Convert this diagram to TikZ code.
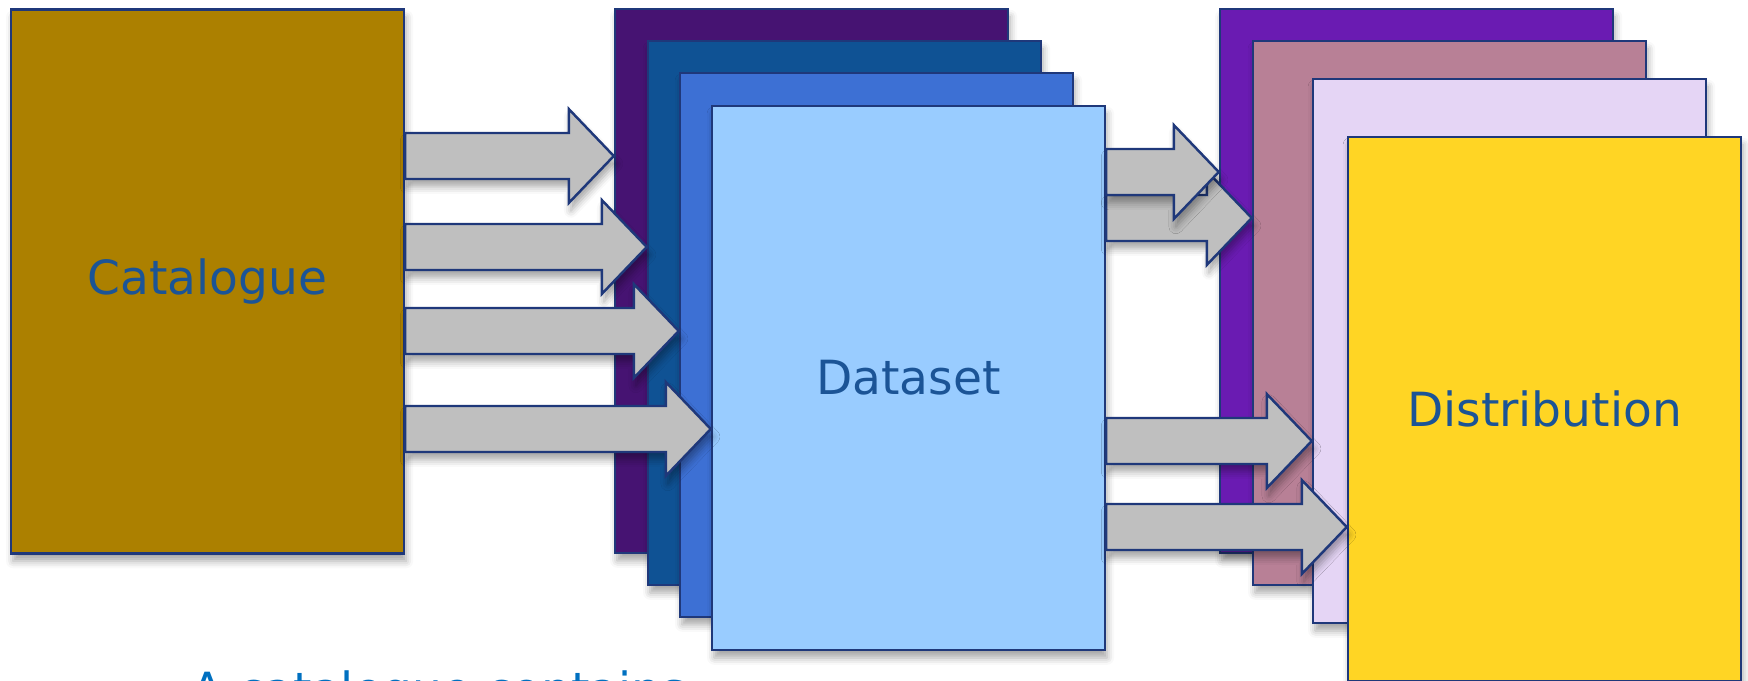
\documentclass[tikz,border=0pt]{standalone}
\usepackage{fontspec}
\setmainfont{DejaVu Sans}
\usepackage{xcolor}
\usetikzlibrary{calc}
\usetikzlibrary{shadows.blur}

\definecolor{bord}{RGB}{31,56,122}
\definecolor{labeltxt}{RGB}{27,84,150}
\definecolor{notetxt}{RGB}{0,112,192}
\definecolor{arrowgrey}{RGB}{191,191,191}
\definecolor{catfill}{RGB}{172,128,0}
\definecolor{dsone}{RGB}{70,19,114}
\definecolor{dstwo}{RGB}{15,82,148}
\definecolor{dsthree}{RGB}{61,112,212}
\definecolor{dsfour}{RGB}{153,204,255}
\definecolor{distone}{RGB}{106,27,178}
\definecolor{disttwo}{RGB}{184,128,150}
\definecolor{distthree}{RGB}{229,213,245}
\definecolor{distfour}{RGB}{255,213,36}

\begin{document}
\begin{tikzpicture}[
        box/.style={draw=bord, line width=0.7pt, minimum width=3.93cm, minimum height=5.44cm,
            inner sep=0pt, text=labeltxt, font=\fontsize{13.4}{16}\selectfont,
            blur shadow={shadow xshift=0.6pt, shadow yshift=-2.2pt, shadow blur radius=2pt, shadow opacity=35}},
        blockarrow/.style={draw=bord, line width=0.7pt, fill=arrowgrey, line join=miter,
            blur shadow={shadow xshift=0.6pt, shadow yshift=-2.2pt, shadow blur radius=2pt, shadow opacity=35},
            to path={let \p1=(\tikztostart), \p2=(\tikztotarget) in
                (\x1,\y1+0.23cm) -- (\x2-0.45cm,\y1+0.23cm) -- (\x2-0.45cm,\y1+0.47cm) -- (\x2,\y1)
                -- (\x2-0.45cm,\y1-0.47cm) -- (\x2-0.45cm,\y1-0.23cm) -- (\x1,\y1-0.23cm) -- cycle}}
    ]
    \useasboundingbox (0,0) rectangle (17.48,-6.81);

    % -- Catalogue --
    \node[box, fill=catfill] (cat) at (2.075,-2.815) {Catalogue};

    % -- Pile des datasets --
    \node[box, fill=dsone]   (ds1) at (8.115,-2.81) {};
    \node[box, fill=dstwo]   (ds2) at (8.445,-3.13) {};
    \node[box, fill=dsthree] (ds3) at (8.765,-3.45) {};
    \node[box, fill=dsfour]  (ds4) at (9.085,-3.78) {Dataset};

    % -- Pile des distributions --
    \node[box, fill=distone]   (dist1) at (14.165,-2.81) {};
    \node[box, fill=disttwo]   (dist2) at (14.495,-3.13) {};
    \node[box, fill=distthree] (dist3) at (15.095,-3.51) {};
    \node[box, fill=distfour]  (dist4) at (15.445,-4.09) {Distribution};

    % -- Fleches catalogue -> datasets --
    \draw[blockarrow] ([yshift=1.255cm]cat.east) to (ds1.west);
    \draw[blockarrow] ([yshift=0.345cm]cat.east) to (ds2.west);
    \draw[blockarrow] ([yshift=-0.495cm]cat.east) to (ds3.west);
    \draw[blockarrow] ([yshift=-1.475cm]cat.east) to (ds4.west);

    % -- Fleches dataset -> distributions --
    \draw[blockarrow] ([yshift=1.60cm]ds4.east) to (dist2.west);
    \draw[blockarrow] ([yshift=2.06cm]ds4.east) to (dist1.west);
    \draw[blockarrow] ([yshift=-0.63cm]ds4.east) to (dist3.west);
    \draw[blockarrow] ([yshift=-1.49cm]ds4.east) to (dist4.west);

    % -- Legende (coupee en bas) --
    \node[anchor=base west, inner sep=0pt, text=notetxt, font=\fontsize{13.4}{16}\selectfont]
        (note) at (1.91,-7.06) {A catalogue contains};

\end{tikzpicture}
\end{document}
